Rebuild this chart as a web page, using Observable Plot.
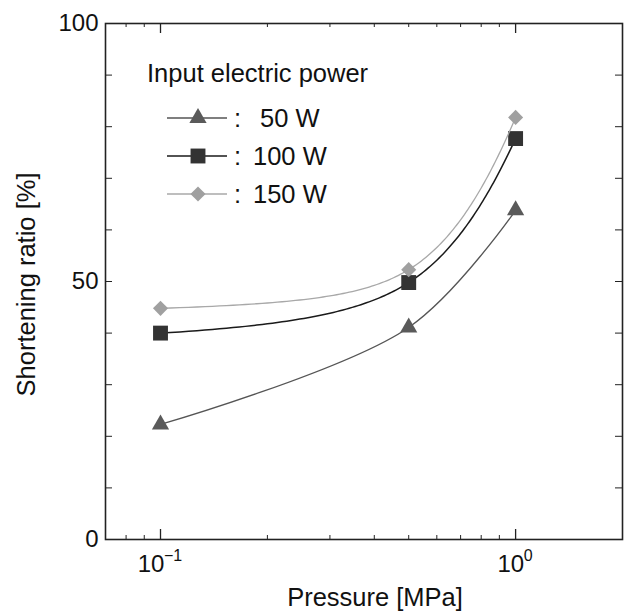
<!DOCTYPE html>
<html><head><meta charset="utf-8">
<script src="https://cdn.jsdelivr.net/npm/d3@7"></script>
<script src="https://cdn.jsdelivr.net/npm/@observablehq/plot@0.6"></script>
<style>body{margin:0;background:#fff;}</style>
</head><body><div id="chart"></div>
<script>
const pressure = [0.1, 0.5, 1.0];
const ratio50 = [22.3, 41.1, 63.8];
const ratio100 = [40.0, 49.8, 77.7];
const ratio150 = [44.8, 52.3, 81.8];
const seriesNames = ["50 W", "100 W", "150 W"];
const legendLabels = ["\u00a050 W", "100 W", "150 W"];
const legendTitle = "Input electric power";
const xMajorTicks = [0.1, 1];
const xMajorExponents = ["\u22121", "0"];
const xMinorTicks = [0.08, 0.09, 0.2, 0.3, 0.4, 0.5, 0.6, 0.7, 0.8, 0.9];
const yMajorTicks = [0, 50, 100];
const yAllTicks = [0, 10, 20, 30, 40, 50, 60, 70, 80, 90, 100];
const xLabel = "Pressure [MPa]";
const yLabel = "Shortening ratio [%]";

const W = 628, H = 612, mL = 105, mR = 6, mT = 23, mB = 73;
const innerW = W - mL - mR, innerH = H - mT - mB;
const FONT = "'Liberation Sans', Arial, Helvetica, sans-serif";
const LABEL_SIZE = 25.5;
const xDomain = [0.07, 2];
const xPix = d3.scaleLog().domain(xDomain).range([mL, W - mR]);

// Curve: natural cubic spline computed in linear pressure space, drawn on the log axis
function curveLinearSpaceNatural(context) {
  let px = [], py = [];
  return {
    areaStart() {}, areaEnd() {},
    lineStart() { px = []; py = []; },
    point(x, y) { px.push(+x); py.push(+y); },
    lineEnd() {
      const n = px.length;
      if (!n) return;
      const u = px.map(v => xPix.invert(v));
      const M = new Array(n).fill(0);
      if (n > 2) {
        const h = [];
        for (let i = 0; i < n - 1; i++) h.push(u[i + 1] - u[i]);
        const a = [], b = [], c = [], r = [];
        for (let i = 1; i < n - 1; i++) {
          a.push(h[i - 1]); b.push(2 * (h[i - 1] + h[i])); c.push(h[i]);
          r.push(6 * ((py[i + 1] - py[i]) / h[i] - (py[i] - py[i - 1]) / h[i - 1]));
        }
        const m = b.length;
        for (let i = 1; i < m; i++) { const w = a[i] / b[i - 1]; b[i] -= w * c[i - 1]; r[i] -= w * r[i - 1]; }
        const sol = new Array(m);
        sol[m - 1] = r[m - 1] / b[m - 1];
        for (let i = m - 2; i >= 0; i--) sol[i] = (r[i] - c[i] * sol[i + 1]) / b[i];
        for (let i = 0; i < m; i++) M[i + 1] = sol[i];
      }
      context.moveTo(px[0], py[0]);
      for (let i = 0; i < n - 1; i++) {
        const h = u[i + 1] - u[i];
        const steps = 60;
        for (let k = 1; k <= steps; k++) {
          const t = u[i] + h * k / steps;
          const A = (u[i + 1] - t) / h, B = (t - u[i]) / h;
          const y = A * py[i] + B * py[i + 1] + ((A * A * A - A) * M[i] + (B * B * B - B) * M[i + 1]) * h * h / 6;
          context.lineTo(xPix(t), y);
        }
      }
    }
  };
}

const styles = {
  "50 W":  {line: "#555555", fill: "#5a5a5a", symbol: "triangle", r: 6.4, sw: 1.3, curve: "catmull-rom"},
  "100 W": {line: "#1a1a1a", fill: "#333333", symbol: "square", r: 8.4, sw: 1.5, curve: curveLinearSpaceNatural},
  "150 W": {line: "#a8a8a8", fill: "#a0a0a0", symbol: "diamond2", r: 6.8, sw: 1.3, curve: curveLinearSpaceNatural}
};
const seriesValues = [ratio50, ratio100, ratio150];
const rows = [];
seriesNames.forEach((s, k) => pressure.forEach((p, i) => rows.push({p, v: seriesValues[k][i], s})));

const marks = [];
// ticks (inward)
marks.push(Plot.tickX(xMinorTicks, {x: d => d, insetTop: innerH - 4, stroke: "#222"}));
marks.push(Plot.tickX(xMinorTicks, {x: d => d, insetBottom: innerH - 4, stroke: "#222"}));
marks.push(Plot.tickX(xMajorTicks, {x: d => d, insetTop: innerH - 10, stroke: "#222", strokeWidth: 1.3}));
marks.push(Plot.tickX(xMajorTicks, {x: d => d, insetBottom: innerH - 10, stroke: "#222", strokeWidth: 1.3}));
marks.push(Plot.tickY(yAllTicks, {y: d => d, insetRight: innerW - 7, stroke: "#222"}));
marks.push(Plot.tickY(yAllTicks, {y: d => d, insetLeft: innerW - 7, stroke: "#222"}));
marks.push(Plot.frame({stroke: "#222", strokeWidth: 1.6}));
marks.push(Plot.axisY({ticks: yMajorTicks, tickSize: 0, tickPadding: 7, label: null, fontSize: 24, fill: "#111"}));
// x tick labels with superscripts
xMajorTicks.forEach((t, i) => {
  const expW = xMajorExponents[i].length * 9.5;
  marks.push(Plot.text([t], {x: d => d, text: () => "10", frameAnchor: "bottom", lineAnchor: "middle", dy: 25, dx: -expW / 2, fontSize: 24, fill: "#111"}));
  marks.push(Plot.text([t], {x: d => d, text: () => xMajorExponents[i], frameAnchor: "bottom", lineAnchor: "middle", dy: 16, dx: 13 - expW / 2, textAnchor: "start", fontSize: 16, fill: "#111"}));
});
// axis labels
marks.push(Plot.text([xLabel], {text: d => d, frameAnchor: "bottom", lineAnchor: "middle", textAnchor: "middle", dy: 58, dx: 11, fontSize: LABEL_SIZE, fill: "#111"}));
marks.push(Plot.text([yLabel], {text: d => d, frameAnchor: "left", lineAnchor: "middle", textAnchor: "middle", dx: -79, dy: 3, rotate: -90, fontSize: LABEL_SIZE, fill: "#111"}));
// series
seriesNames.forEach(s => {
  const st = styles[s];
  const d = rows.filter(r => r.s === s);
  marks.push(Plot.line(d, {x: "p", y: "v", stroke: st.line, strokeWidth: st.sw, curve: st.curve}));
  marks.push(Plot.dot(d, {x: "p", y: "v", symbol: () => st.symbol, r: st.r, fill: st.fill, stroke: "none"}));
});

const chart = Plot.plot({
  width: W, height: H,
  marginLeft: mL, marginRight: mR, marginTop: mT, marginBottom: mB,
  style: {fontFamily: FONT, fontSize: "24px", background: "#fff", color: "#111"},
  x: {type: "log", domain: xDomain, axis: null},
  y: {domain: [0, 100], axis: null},
  symbol: {type: "identity"},
  marks
});

// legend inside the frame
const svg = d3.select(chart);
const g = svg.append("g").attr("font-family", FONT).attr("font-size", LABEL_SIZE).attr("fill", "#111").attr("text-anchor", "start");
g.append("text").attr("x", 147).attr("y", 82).text(legendTitle);
seriesNames.forEach((s, i) => {
  const st = styles[s];
  const cy = 118 + i * 38;
  g.append("line").attr("x1", 167).attr("x2", 227).attr("y1", cy).attr("y2", cy)
    .attr("stroke", st.line).attr("stroke-width", st.sw);
  const sym = {triangle: d3.symbolTriangle, square: d3.symbolSquare, diamond2: d3.symbolDiamond2}[st.symbol];
  g.append("path").attr("transform", `translate(198,${cy})`)
    .attr("d", d3.symbol(sym, st.r * st.r * Math.PI)()).attr("fill", st.fill);
  g.append("text").attr("x", 234).attr("y", cy + 9).text(":");
  g.append("text").attr("x", 253).attr("y", cy + 9).text(legendLabels[i]);
});

document.getElementById("chart").appendChild(chart);
</script>
</body></html>
